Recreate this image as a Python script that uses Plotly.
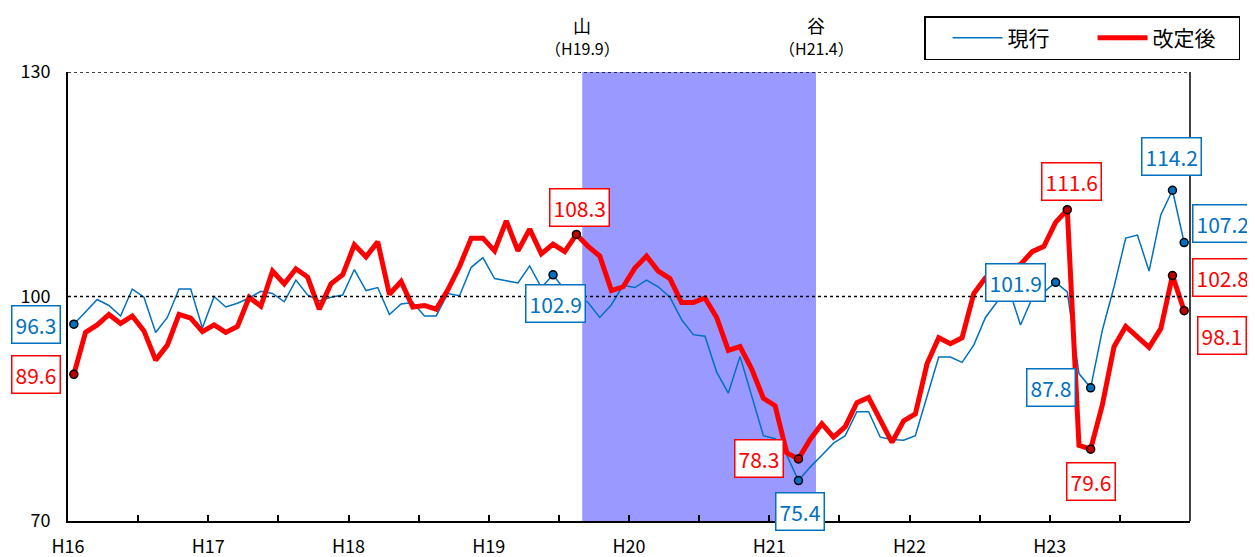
import plotly.graph_objects as go

# ---- data (monthly index, Jan H16 .. Dec H23) ----
year_labels = ["H16", "H17", "H18", "H19", "H20", "H21", "H22", "H23"]

current = [96.3, 98.0, 99.6, 98.8, 97.4, 101.0, 99.9, 95.2, 97.2, 101.0, 101.0, 95.8,
           100.0, 98.6, 99.1, 99.8, 100.7, 100.4, 99.3, 102.2, 100.2, 99.4, 99.9, 100.2,
           103.6, 100.8, 101.2, 97.6, 99.0, 99.2, 97.4, 97.4, 100.4, 100.1, 103.9, 105.2,
           102.4, 102.1, 101.8, 104.1, 101.2, 102.9, 100.9, 100.3, 99.2, 97.2, 98.9, 101.5,
           101.2, 102.2, 101.3, 99.9, 96.9, 94.9, 94.7, 89.9, 87.1, 92.0, 86.6, 81.4,
           81.0, 78.8, 75.4, 77.2, 78.8, 80.4, 81.4, 84.6, 84.6, 81.2, 80.9, 80.8,
           81.4, 86.6, 91.9, 91.9, 91.2, 93.5, 97.2, 99.3, 101.0, 96.2, 99.8, 100.6,
           101.9, 100.6, 89.7, 87.8, 95.5, 101.3, 107.8, 108.2, 103.4, 110.9, 114.2, 107.2]

revised = [89.6, 95.2, 96.2, 97.6, 96.4, 97.4, 95.4, 91.5, 93.5, 97.6, 97.1, 95.3,
           96.2, 95.2, 96.0, 99.9, 98.7, 103.4, 101.7, 103.7, 102.6, 98.3, 101.7, 102.9,
           106.9, 105.3, 107.3, 100.3, 102.0, 98.6, 98.8, 98.3, 100.9, 104.0, 107.8, 107.8,
           106.1, 110.1, 106.1, 109.0, 105.7, 107.0, 106.0, 108.3, 106.7, 105.4, 100.8, 101.3,
           103.8, 105.4, 103.4, 102.4, 99.2, 99.2, 99.8, 97.2, 92.8, 93.3, 90.3, 86.4,
           85.4, 79.1, 78.3, 80.9, 83.0, 81.2, 82.6, 85.8, 86.5, 83.6, 80.5, 83.4,
           84.3, 91.0, 94.5, 93.7, 94.5, 100.4, 102.5, 103.2, 103.8, 104.3, 106.0, 106.7,
           109.9, 111.6, 80.1, 79.6, 85.5, 93.3, 96.0, 94.6, 93.2, 95.7, 102.8, 98.1]

# labelled points: (month index, x-shift px, y-shift px)
current_marks = [(0, -38, 0), (41, 2, -29), (62, 2, -31), (84, -40, 0), (87, -40, 0),
                 (94, -1, 34), (95, 38, 19)]
revised_marks = [(0, -38, 0), (43, 3, 27), (62, -39, 0), (85, 4, 28), (87, 0, -32),
                 (94, 50, -2), (95, 38, -25)]

peak_month, trough_month = 44, 64  # shaded recession (month boundaries)

BLUE = "#0070C0"
RED = "#FF0000"
FONT = "Noto Sans CJK JP"

x = [i + 0.5 for i in range(len(current))]

fig = go.Figure()
fig.add_trace(go.Scatter(x=x, y=current, mode="lines", name="現行",
                         line=dict(color=BLUE, width=1.5)))
fig.add_trace(go.Scatter(x=x, y=revised, mode="lines", name="改定後",
                         line=dict(color=RED, width=5)))

# markers at labelled points
fig.add_trace(go.Scatter(x=[x[i] for i, _, _ in current_marks],
                         y=[current[i] for i, _, _ in current_marks],
                         mode="markers", showlegend=False,
                         marker=dict(size=8, color=BLUE, line=dict(color="black", width=1.5))))
fig.add_trace(go.Scatter(x=[x[i] for i, _, _ in revised_marks],
                         y=[revised[i] for i, _, _ in revised_marks],
                         mode="markers", showlegend=False,
                         marker=dict(size=8, color="#C00000", line=dict(color="black", width=1.5))))

annotations = []
for i, dx, dy in current_marks:
    annotations.append(dict(x=x[i], y=current[i], xref="x", yref="y", text=f"{current[i]:.1f}",
                            showarrow=False, xshift=dx, yshift=dy,
                            font=dict(family=FONT, size=21, color=BLUE),
                            bgcolor="white", bordercolor=BLUE, borderwidth=1.5, borderpad=3))
for i, dx, dy in revised_marks:
    annotations.append(dict(x=x[i], y=revised[i], xref="x", yref="y", text=f"{revised[i]:.1f}",
                            showarrow=False, xshift=dx, yshift=dy,
                            font=dict(family=FONT, size=21, color=RED),
                            bgcolor="white", bordercolor=RED, borderwidth=1.5, borderpad=3))

for xm, top, sub in [(peak_month, "山", "（H19.9）"), (trough_month, "谷", "（H21.4）")]:
    annotations.append(dict(x=xm, y=1, xref="x", yref="paper", yanchor="middle", text=top,
                            showarrow=False, yshift=47,
                            font=dict(family=FONT, size=18, color="black")))
    annotations.append(dict(x=xm, y=1, xref="x", yref="paper", yanchor="middle", text=sub,
                            showarrow=False, yshift=24,
                            font=dict(family=FONT, size=16, color="black")))

shapes = [
    dict(type="rect", xref="x", yref="y", x0=peak_month, x1=trough_month, y0=70, y1=130,
         fillcolor="#9999FF", line=dict(width=0), layer="below"),
    dict(type="line", xref="paper", yref="y", x0=0, x1=1, y0=100, y1=100,
         line=dict(color="black", width=1.5, dash="dot"), layer="above"),
    dict(type="line", xref="paper", yref="y", x0=0, x1=1, y0=130, y1=130,
         line=dict(color="black", width=1.5, dash="dot"), layer="above"),
    dict(type="line", xref="paper", yref="paper", x0=1, x1=1, y0=0, y1=1,
         line=dict(color="black", width=1.5), layer="above"),
]

tickvals = list(range(0, 96, 6))
ticktext = [year_labels[v // 12] if v % 12 == 0 else "" for v in tickvals]

fig.update_layout(
    width=1247, height=549,
    margin=dict(l=60, r=65, t=64, b=36, autoexpand=False),
    paper_bgcolor="white", plot_bgcolor="white",
    font=dict(family=FONT, color="black"),
    annotations=annotations, shapes=shapes,
    showlegend=True,
    legend=dict(orientation="h", x=1.0446, xanchor="right", y=1.0267, yanchor="bottom",
                bordercolor="black", borderwidth=1.5, bgcolor="white",
                font=dict(family=FONT, size=21, color="black"),
                title=dict(text="\u3000", side="left", font=dict(size=12)),
                itemwidth=50, entrywidth=80, tracegroupgap=0),
    xaxis=dict(range=[0, 96], tickvals=tickvals, ticktext=ticktext, ticks="inside",
               ticklen=6, tickwidth=1.5, tickcolor="black", showgrid=False, zeroline=False,
               showline=True, linecolor="black", linewidth=2, ticklabelstandoff=8,
               tickfont=dict(family=FONT, size=18, color="black")),
    yaxis=dict(range=[70, 130], tickvals=[70, 100, 130], ticks="", showgrid=False,
               zeroline=False, showline=True, linecolor="black", linewidth=2,
               ticklabelstandoff=12,
               tickfont=dict(family=FONT, size=18, color="black")),
)

fig.write_html("out.html")
